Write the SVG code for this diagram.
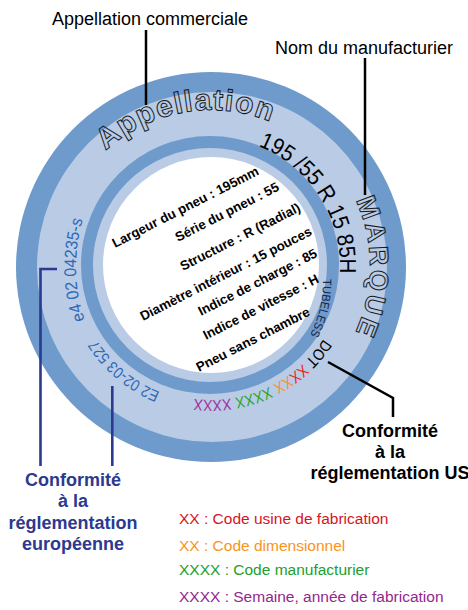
<svg xmlns="http://www.w3.org/2000/svg" width="468" height="610" viewBox="0 0 468 610">
<style>
.sans{font-family:"Liberation Sans",Arial,sans-serif}
.lbl{font-size:18px;fill:#000}
.bold{font-weight:bold}
.eu{fill:#2b3990}
.inner{font-size:13.3px;font-weight:bold;fill:#000}
.outline{font-weight:bold;fill:none;stroke:#1a1a1a;stroke-width:1}
.blue{fill:#2c68b8}
.leg{font-size:15.5px}
.line{stroke:#000;stroke-width:2.5;fill:none}
.nline{stroke:#2b3990;stroke-width:2.6;fill:none}
.dark{fill:#6e9bcc}
.light{fill:#b9cbe5}
</style>
<defs>
<path id="pApp" d="M105.8,150.8 A156,156 0 0 1 300.5,138.2"/>
<path id="pMarque" d="M355.7,200.1 A159,159 0 0 1 341.2,357.2"/>
<path id="pSize" d="M258.5,146.1 A129,129 0 0 1 337.2,292.8"/>
<path id="pE4" d="M84.8,320 A164,164 0 0 1 98,185"/>
<path id="pE2" d="M160.1,392.1 A136,136 0 0 1 83.2,312.5"/>
<path id="pDot" d="M323.4,339 A134,134 0 0 1 165.2,391.9"/>
<path id="pTub" d="M323,279 Q324,308 309,337"/>
</defs>

<g id="tire">
<circle class="dark" cx="211" cy="267" r="195"/>
<circle class="light" cx="212" cy="267" r="175"/>
<circle class="dark" cx="210" cy="265" r="129"/>
<circle class="light" cx="210" cy="265" r="117"/>
<circle cx="211" cy="265" r="108" fill="#fff"/>
</g>

<g id="appellation">
<text class="sans outline" font-size="30"><textPath href="#pApp" textLength="176">Appellation</textPath></text>
</g>
<g id="marque">
<text class="sans outline" font-size="27"><textPath href="#pMarque" textLength="136">MARQUE</textPath></text>
</g>
<g id="size">
<text class="sans" font-size="23" fill="#000"><textPath href="#pSize" textLength="161" lengthAdjust="spacingAndGlyphs">195 /55 R 15  85H</textPath></text>
</g>
<g id="e4">
<text class="sans blue" font-size="17"><textPath href="#pE4" textLength="102" lengthAdjust="spacingAndGlyphs">e4  02 04235-s</textPath></text>
</g>
<g id="e2">
<text class="sans blue" font-size="16"><textPath href="#pE2" textLength="84" lengthAdjust="spacingAndGlyphs">E2 02-03 527</textPath></text>
</g>
<g id="dot">
<text class="sans" font-size="16" fill="#000"><textPath href="#pDot" textLength="150" lengthAdjust="spacingAndGlyphs">DOT <tspan fill="#ee1c24">XX</tspan><tspan fill="#f7941d">XX</tspan> <tspan fill="#2aa52a">XXXX</tspan> <tspan fill="#a0309f">XXXX</tspan></textPath></text>
</g>
<g id="tubeless">
<text class="sans" font-size="12" fill="#1b2447"><textPath href="#pTub" textLength="58" lengthAdjust="spacingAndGlyphs">TUBELESS</textPath></text>
</g>

<g id="explanations" class="sans inner">
<text transform="translate(115,248) rotate(-27)">Largeur du pneu : 195mm</text>
<text transform="translate(178,242) rotate(-27)">Série du pneu : 55</text>
<text transform="translate(183,271) rotate(-27)">Structure : R (Radial)</text>
<text transform="translate(143,321) rotate(-27)">Diamètre intérieur : 15 pouces</text>
<text transform="translate(201,316) rotate(-27)">Indice de charge : 85</text>
<text transform="translate(206,340) rotate(-27)">Indice de vitesse : H</text>
<text transform="translate(199,372) rotate(-27)">Pneu sans chambre</text>
</g>

<g id="connectors">
<path class="line" d="M146,30 V105"/>
<path class="line" d="M365,58 V195"/>
<path class="line" d="M328,362 L393,398 V417"/>
<path class="nline" d="M57,269 H40.5 V466"/>
<path class="nline" d="M112.3,386 V466"/>
</g>

<g id="label-appellation">
<text class="sans lbl" x="52" y="25">Appellation commerciale</text>
</g>
<g id="label-nom">
<text class="sans lbl" x="275" y="53.5">Nom du manufacturier</text>
</g>
<g id="label-us" class="sans lbl bold" text-anchor="middle">
<text x="390" y="437">Conformité</text>
<text x="390" y="458">à la</text>
<text x="390" y="479">réglementation US</text>
</g>
<g id="label-eu" class="sans lbl bold eu" text-anchor="middle">
<text x="73" y="486">Conformité</text>
<text x="73" y="507">à la</text>
<text x="73" y="529">réglementation</text>
<text x="73" y="550">européenne</text>
</g>

<g id="legend" class="sans leg">
<text x="179" y="523.5" fill="#d7141e">XX : Code usine de fabrication</text>
<text x="179" y="551" fill="#f7931e">XX : Code dimensionnel</text>
<text x="179" y="575" fill="#22a02a">XXXX : Code manufacturier</text>
<text x="179" y="602" fill="#92278f">XXXX : Semaine, année de fabrication</text>
</g>
</svg>
